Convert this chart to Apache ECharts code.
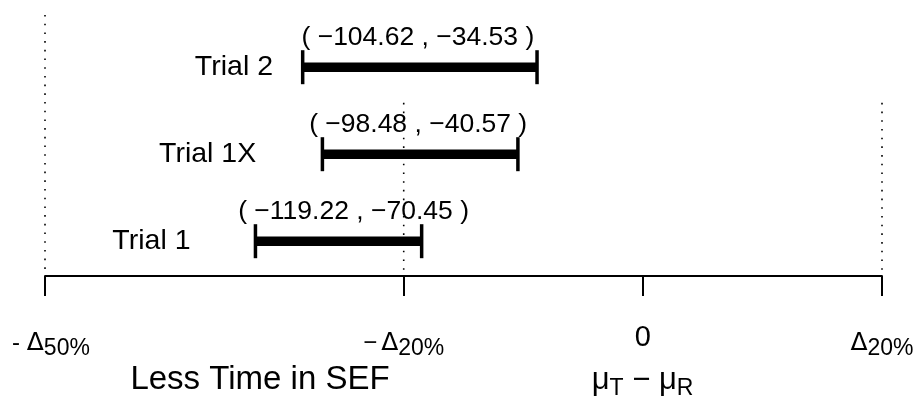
<!DOCTYPE html>
<html>
<head>
<meta charset="utf-8">
<script src="https://cdn.jsdelivr.net/npm/echarts@6/dist/echarts.min.js"></script>
<style>
  html, body { margin: 0; background: #fff; }
  #chart { width: 916px; height: 401px; }
</style>
</head>
<body>
<div id="chart"></div>
<script>
// trials, bottom to top
const trials = ['Trial 1', 'Trial 1X', 'Trial 2']
const trialRows = [1, 2, 3]
// interval ends on the axis scale (% of the margin)
const barLow = [-32.4, -26.8, -28.45]
const barHigh = [-18.5, -10.45, -8.85]
// limits printed above each interval
const ciLow = [-119.22, -98.48, -104.62]
const ciHigh = [-70.45, -40.57, -34.53]
// x axis ticks
const tickValues = [-50, -20, 0, 20]
const tickLabels = ['-Δ50%', '−Δ20%', '0', 'Δ20%']
// dotted reference lines
const refValues = [-50, -20, 20]

// layout bits
const trialLabelX = [-41.1, -36.4, -34.2]
const ciLabelShift = [15, -2, -2]
const refTop = [3.6, 2.59, 2.59]

const FONT = '"Liberation Sans", Arial, sans-serif'

function fmt(v) {
  return (v < 0 ? '\u2212' : '') + Math.abs(v).toFixed(2)
}

function ciText(i) {
  return '( ' + fmt(ciLow[i]) + ' , ' + fmt(ciHigh[i]) + ' )'
}

function tickFormatter(v) {
  const t = tickLabels[tickValues.indexOf(v)]
  if (t === undefined) return ''
  const k = t.indexOf('Δ')
  if (k < 0) return '{n|' + t + '}'
  const pre = t.slice(0, k)
  const sub = t.slice(k + 1)
  let s = ''
  if (pre === '-') s = '{hp|- }'
  else if (pre) s = '{h|' + pre + '}'
  return s + '{d|Δ}{s|' + sub + '}'
}

const chart = echarts.init(document.getElementById('chart'))

const option = {
  animation: false,
  grid: { left: 45, right: 34, top: 15, bottom: 125, outerBoundsMode: 'none' },
  xAxis: {
    type: 'value',
    min: -50,
    max: 20,
    splitLine: { show: false },
    axisLine: { show: true, onZero: false, lineStyle: { color: '#000', width: 1.8 } },
    axisTick: { show: true, customValues: tickValues, length: 20, lineStyle: { color: '#000', width: 2 } },
    axisLabel: {
      customValues: tickValues,
      margin: 47,
      color: '#000',
      formatter: tickFormatter,
      rich: {
        n: { fontFamily: FONT, fontSize: 29, lineHeight: 30, verticalAlign: 'top', color: '#000' },
        h: { fontFamily: FONT, fontSize: 24, lineHeight: 24, padding: [8.4, 4, 0, 0], verticalAlign: 'top', color: '#000' },
        hp: { fontFamily: FONT, fontSize: 24, lineHeight: 24, padding: [8.4, 0, 0, 12], verticalAlign: 'top', color: '#000' },
        d: { fontFamily: '"DejaVu Sans"', fontSize: 25, lineHeight: 24, padding: [8, 0, 0, 0], verticalAlign: 'top', color: '#000' },
        s: { fontFamily: FONT, fontSize: 23, lineHeight: 23, padding: [14.2, 0, 0, 0], verticalAlign: 'top', color: '#000' }
      }
    }
  },
  yAxis: { type: 'value', min: 0.6, max: 3.6, show: false },
  graphic: [
    {
      type: 'text', x: 260, y: 380,
      style: { text: 'Less Time in SEF', align: 'center', verticalAlign: 'middle', font: '33px ' + FONT, fill: '#000' }
    },
    {
      type: 'text', x: 642.5, y: 365,
      style: {
        text: '{m|μ}{s|T}{m| \u2212 μ}{s|R}',
        align: 'center',
        verticalAlign: 'top',
        fill: '#000',
        rich: {
          m: { fontFamily: FONT, fontSize: 31, lineHeight: 31, verticalAlign: 'top' },
          s: { fontFamily: FONT, fontSize: 23, lineHeight: 23, padding: [12, 0, 0, 0], verticalAlign: 'top' }
        }
      }
    }
  ],
  series: [
    ...refValues.map((v, i) => ({
      type: 'line',
      silent: true,
      symbol: 'none',
      data: [[v, refTop[i]], [v, 0.6]],
      lineStyle: { color: '#000', width: 1.6, type: [1.6, 7.1], cap: 'butt' }
    })),
    {
      type: 'custom',
      silent: true,
      data: trials.map((t, i) => [barLow[i], barHigh[i], trialRows[i]]),
      renderItem: (params, api) => {
        const i = params.dataIndex
        const y = api.value(2)
        const p0 = api.coord([api.value(0), y])
        const p1 = api.coord([api.value(1), y])
        const tl = api.coord([trialLabelX[i], y])
        const cap = 17
        return {
          type: 'group',
          children: [
            { type: 'line', shape: { x1: p0[0], y1: p0[1], x2: p1[0], y2: p1[1] }, style: { stroke: '#000', lineWidth: 9.5 } },
            { type: 'line', shape: { x1: p0[0], y1: p0[1] - cap, x2: p0[0], y2: p0[1] + cap }, style: { stroke: '#000', lineWidth: 3.5 } },
            { type: 'line', shape: { x1: p1[0], y1: p1[1] - cap, x2: p1[0], y2: p1[1] + cap }, style: { stroke: '#000', lineWidth: 3.5 } },
            {
              type: 'text', x: (p0[0] + p1[0]) / 2 + ciLabelShift[i], y: p0[1] - 29.5,
              style: { text: ciText(i), align: 'center', verticalAlign: 'middle', font: '26.5px ' + FONT, fill: '#000' }
            },
            {
              type: 'text', x: tl[0], y: tl[1],
              style: { text: trials[i], align: 'center', verticalAlign: 'middle', font: '28.5px ' + FONT, fill: '#000' }
            }
          ]
        }
      }
    }
  ]
}

chart.setOption(option)
</script>
</body>
</html>
